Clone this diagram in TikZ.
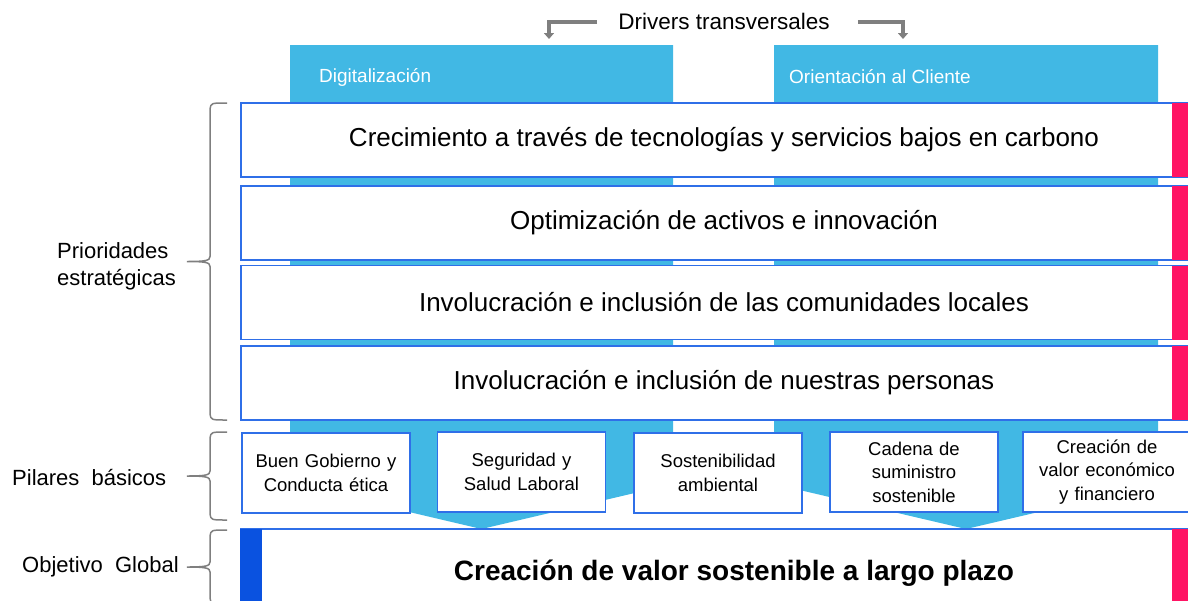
\documentclass[tikz,border=0pt]{standalone}
\usepackage{fontspec}
\setmainfont{Liberation Sans}
\usetikzlibrary{arrows.meta}
\definecolor{colblue}{HTML}{41B8E4}
\definecolor{lineblue}{HTML}{2F6FE8}
\definecolor{darkblue}{HTML}{0A52E0}
\definecolor{accent}{HTML}{FF1464}
\definecolor{bracegray}{HTML}{7F7F7F}
\tikzset{
  prio/.style={draw=lineblue, line width=1.5pt, fill=white, minimum width=966pt,
    minimum height=74pt, inner sep=0pt, font=\fontsize{26}{30}\selectfont},
  pilar/.style={draw=lineblue, line width=1.5pt, fill=white, minimum width=168pt,
    minimum height=80pt, inner sep=0pt, text width=166pt, align=center,
    font=\fontsize{18.5}{23.5}\selectfont},
  tag/.style={anchor=west, inner sep=0pt, text=white, font=\fontsize{19}{22}\selectfont},
  lbl/.style={anchor=west, inner sep=0pt, align=left, font=\fontsize{22}{27}\selectfont},
  brc/.style={draw=bracegray, line width=1.5pt},
  elbow/.style={draw=bracegray, line width=4pt, -{Triangle[width=10pt,length=6pt]}}
}
\begin{document}
\begin{tikzpicture}[x=1pt, y=-1pt]
  \clip (0,0) rectangle (1188,600);
  \useasboundingbox (0,0) rectangle (1188,600);

  % Drivers columns
  \fill[colblue] (290,45) -- (673,45) -- (673,484) -- (481.5,529) -- (290,484) -- cycle;
  \fill[colblue] (774,45) -- (1158,45) -- (1158,484) -- (966,529) -- (774,484) -- cycle;
  \node[tag] (dig) at (319,77) {Digitalización};
  \node[tag] (cli) at (789,77) {Orientación al Cliente};

  % Title and arrows
  \node[inner sep=0pt, font=\fontsize{22.5}{26}\selectfont] (drivers) at (724,21) {Drivers transversales};
  \coordinate (dleft) at (549,39);
  \coordinate (dright) at (903,39);
  \draw[elbow] ([xshift=-21pt,yshift=-1pt]drivers.west) -| (dleft);
  \draw[elbow] ([xshift=28pt,yshift=-1pt]drivers.east) -| (dright);

  % Prioridades
  \node[prio] (p1) at (724,140) {Crecimiento a través de tecnologías y servicios bajos en carbono};
  \node[prio] (p2) at (724,223) {Optimización de activos e innovación};
  \node[prio] (p3) at (724,302.5) {Involucración e inclusión de las comunidades locales};
  \node[prio] (p4) at (724,383) {Involucración e inclusión de nuestras personas};
  \foreach \p in {p1,p2,p3,p4}
    \fill[accent] ([xshift=932pt,yshift=-0.75pt]\p.north west) rectangle ([yshift=0.75pt]\p.south east);

  % Pilares
  \node[pilar] (b1) at (326,473) {Buen Gobierno y\\Conducta ética};
  \node[pilar] (b2) at (521.5,472) {Seguridad y\\Salud Laboral};
  \node[pilar] (b3) at (718,473) {Sostenibilidad\\ambiental};
  \node[pilar] (b4) at (914,472) {Cadena de\\suministro\\sostenible};
  \node[pilar] (b5) at (1107,472) {Creación de\\valor económico\\y financiero};

  % Objetivo
  \node[prio, minimum height=92pt, font=\fontsize{28}{32}\bfseries] (obj) at (724,575)
    {\hspace*{20pt}\raisebox{9pt}{Creación de valor sostenible a largo plazo}};
  \fill[darkblue] ([xshift=-0.75pt,yshift=-0.75pt]obj.north west) rectangle ([xshift=22pt]obj.south west);
  \fill[accent] ([xshift=932pt,yshift=-0.75pt]obj.north west) rectangle (obj.south east);

  % Braces
  \foreach \t/\b in {103/420, 432/520, 530/604} {
    \pgfmathsetmacro\m{(\t+\b)/2}
    \draw[brc] (227,\t) .. controls (211,\t) .. (210,\t+6) -- (210,\m-5)
      .. controls (210,\m-1) and (206,\m) .. (187,\m)
      .. controls (206,\m) and (210,\m+1) .. (210,\m+5) -- (210,\b-6)
      .. controls (211,\b) .. (227,\b);
  }
  \node[lbl] (lprio) at (57,266) {Prioridades\\estratégicas};
  \node[lbl] (lpil) at (12,477) {Pilares\ \ básicos};
  \node[lbl] (lobj) at (22,567) {Objetivo\ \ Global};
\end{tikzpicture}
\end{document}
